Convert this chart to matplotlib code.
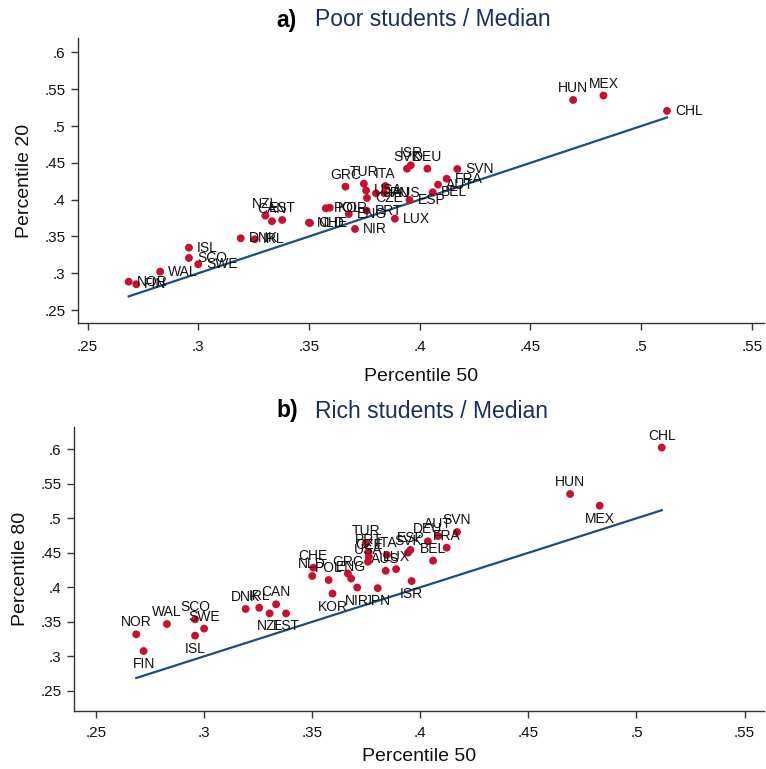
import matplotlib
matplotlib.use('Agg')
import matplotlib.pyplot as plt
from matplotlib.ticker import FuncFormatter, FixedLocator

plt.rcParams['font.family'] = ['Liberation Sans', 'DejaVu Sans']

countries = ["NOR", "FIN", "WAL", "SCO", "ISL", "SWE", "DNK", "IRL", "NZL", "CAN",
             "EST", "NLD", "CHE", "POL", "KOR", "GRC", "ENG", "NIR", "TUR", "PRT",
             "CZE", "USA", "JPN", "ITA", "AUS", "LUX", "SVK", "ESP", "ISR", "DEU",
             "BEL", "AUT", "FRA", "SVN", "HUN", "MEX", "CHL"]
p50 = [0.2686, 0.2720, 0.2828, 0.2958, 0.2958, 0.3000, 0.3192, 0.3255, 0.3303, 0.3333,
       0.3379, 0.3500, 0.3505, 0.3576, 0.3594, 0.3665, 0.3680, 0.3708, 0.3748, 0.3760,
       0.3762, 0.3758, 0.3803, 0.3845, 0.3840, 0.3888, 0.3943, 0.3954, 0.3960, 0.4035,
       0.4059, 0.4083, 0.4122, 0.4170, 0.4693, 0.4830, 0.5117]
p20 = [0.2886, 0.2851, 0.3022, 0.3208, 0.3348, 0.3122, 0.3476, 0.3462, 0.3783, 0.3707,
       0.3724, 0.3688, 0.3684, 0.3883, 0.3891, 0.4177, 0.3806, 0.3602, 0.4217, 0.3851,
       0.4023, 0.4125, 0.4087, 0.4186, 0.4090, 0.3742, 0.4421, 0.3996, 0.4467, 0.4421,
       0.4101, 0.4204, 0.4285, 0.4417, 0.5355, 0.5415, 0.5207]
p80 = [0.3319, 0.3077, 0.3468, 0.3536, 0.3300, 0.3401, 0.3686, 0.3704, 0.3622, 0.3754,
       0.3622, 0.4164, 0.4284, 0.4106, 0.3909, 0.4200, 0.4127, 0.3997, 0.4641, 0.4512,
       0.4445, 0.4371, 0.3988, 0.4470, 0.4239, 0.4264, 0.4502, 0.4541, 0.4091, 0.4667,
       0.4386, 0.4743, 0.4574, 0.4801, 0.5352, 0.5183, 0.6025]

ticks = [0.25, 0.3, 0.35, 0.4, 0.45, 0.5, 0.55, 0.6]

# label clock positions (style)
top_above = {"NZL", "CAN", "EST", "GRC", "TUR", "ITA", "ISR", "SVK", "DEU", "HUN", "MEX"}
bot_below = {"FIN", "ISL", "NZL", "EST", "KOR", "NIR", "JPN", "ISR", "MEX"}

W, H = 766, 769
fig = plt.figure(figsize=(W / 100, H / 100), dpi=100)

RED = '#c8102e'
LINE = '#1a4f7e'
NAVY = '#1a2f5f'
SPINE = '#333333'


def add_ax(l, r, t, b):
    return fig.add_axes([l / W, 1 - b / H, (r - l) / W, (b - t) / H])


def fmt(v, p):
    s = ('%.2f' % v).rstrip('0')
    return s[1:] if s.startswith('0') else s


def style(ax, xlim, ylim, ylabel, xpad, lpad):
    ax.set_xlim(*xlim)
    ax.set_ylim(*ylim)
    for s in ['top', 'right']:
        ax.spines[s].set_visible(False)
    for s in ['left', 'bottom']:
        ax.spines[s].set_color(SPINE)
        ax.spines[s].set_linewidth(1.0)
    ax.xaxis.set_major_locator(FixedLocator(ticks[:-1]))
    ax.yaxis.set_major_locator(FixedLocator(ticks))
    ax.xaxis.set_major_formatter(FuncFormatter(fmt))
    ax.yaxis.set_major_formatter(FuncFormatter(fmt))
    ax.tick_params(direction='out', length=5, width=1.0, color=SPINE,
                   labelsize=11, labelcolor='#111111')
    ax.tick_params(axis='x', pad=xpad)
    ax.tick_params(axis='y', pad=4)
    ax.set_xlabel('Percentile 50', fontsize=14, labelpad=lpad, color='#111111')
    ax.set_ylabel(ylabel, fontsize=14, labelpad=8, color='#111111')


def draw(ax, yvals, mode):
    ax.plot([min(p50), max(p50)], [min(p50), max(p50)], color=LINE, lw=1.6, zorder=2)
    ax.scatter(p50, yvals, s=32, color=RED, edgecolors='none', zorder=3)
    for c, x, y in zip(countries, p50, yvals):
        if mode == 'top':
            pos = 12 if c in top_above else 3
        else:
            pos = 6 if c in bot_below else 12
        kw = dict(textcoords='offset pixels', fontsize=10, color='#111111', zorder=4)
        if pos == 3:
            ax.annotate(c, (x, y), xytext=(8, 0), ha='left', va='center', **kw)
        elif pos == 12:
            ax.annotate(c, (x, y), xytext=(0, 12), ha='center', va='center', **kw)
        else:
            ax.annotate(c, (x, y), xytext=(0, -13), ha='center', va='center', **kw)


ax1 = add_ax(78, 764, 38, 323.3)
style(ax1, (0.2457, 0.5555), (0.232, 0.6197), 'Percentile 20', 7, 10)
draw(ax1, p20, 'top')

ax2 = add_ax(74, 764, 427, 710.7)
style(ax2, (0.2398, 0.5590), (0.2212, 0.6323), 'Percentile 80', 6, 6)
draw(ax2, p80, 'bot')

# titles
for ty, lab, txt in [(20, 'a)', 'Poor students / Median'),
                     (411, 'b)', 'Rich students / Median')]:
    fig.text(276 / W, 1 - ty / H, lab, fontsize=16.5, fontweight='bold', color='black',
             ha='left', va='center')
    fig.text(315 / W, 1 - ty / H, txt, fontsize=16.5, color=NAVY,
             ha='left', va='center')

fig.savefig('out.png', dpi=100, facecolor='white')
